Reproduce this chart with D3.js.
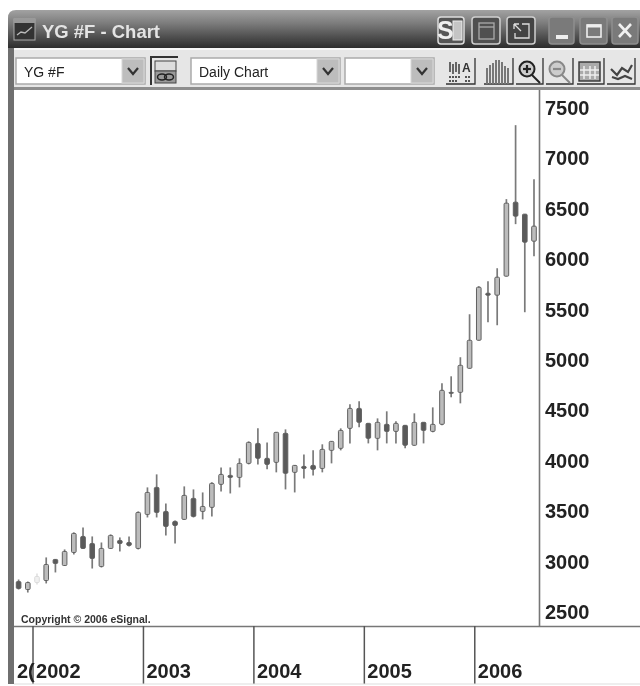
<!DOCTYPE html>
<html><head><meta charset="utf-8">
<script src="https://cdn.jsdelivr.net/npm/d3@7/dist/d3.min.js"></script>
<style>
html,body{margin:0;padding:0;background:#fff}
svg{display:block;filter:blur(0.7px)}
text{font-family:"Liberation Sans",Arial,sans-serif}
</style></head><body><div id="c"></div>
<script>
const months=["2001-11","2001-12",
"2002-01","2002-02","2002-03","2002-04","2002-05","2002-06","2002-07","2002-08","2002-09","2002-10","2002-11","2002-12",
"2003-01","2003-02","2003-03","2003-04","2003-05","2003-06","2003-07","2003-08","2003-09","2003-10","2003-11","2003-12",
"2004-01","2004-02","2004-03","2004-04","2004-05","2004-06","2004-07","2004-08","2004-09","2004-10","2004-11","2004-12",
"2005-01","2005-02","2005-03","2005-04","2005-05","2005-06","2005-07","2005-08","2005-09","2005-10","2005-11","2005-12",
"2006-01","2006-02","2006-03","2006-04","2006-05","2006-06","2006-07"];
const opens=[2797,2718,2787,2807,3016,2956,3085,3244,3174,2946,3125,3204,3184,3125,3462,3730,3492,3393,3413,3621,3492,3532,3760,3849,3829,3968,4166,4018,3978,4266,3879,3938,3948,3918,4097,4117,4315,4513,4365,4216,4355,4285,4345,4147,4375,4285,4355,4672,4672,4910,5188,5654,5635,5823,6557,6438,6170];
const highs=[2817,2797,2877,3036,3016,3115,3284,3333,3244,3184,3264,3234,3244,3492,3730,3859,3571,3403,3740,3710,3680,3780,3928,3928,4018,4186,4315,4176,4276,4305,3948,4057,4097,4157,4186,4315,4553,4583,4365,4414,4484,4385,4345,4464,4375,4523,4762,4831,5020,5446,5724,5773,5902,6587,7320,6438,6785];
const lows=[2718,2688,2768,2778,2887,2956,3065,3125,2926,2936,3125,3095,3145,3115,3432,3432,3254,3174,3413,3432,3413,3442,3690,3670,3730,3958,3958,3909,3879,3710,3680,3819,3849,3879,3968,4097,4166,4325,4166,4097,4166,4166,4117,4147,4166,4276,4345,4623,4563,4910,5188,5367,5337,5823,6339,5466,6022];
const closes=[2728,2787,2847,2966,2976,3095,3274,3125,3026,3125,3254,3174,3155,3482,3680,3482,3343,3353,3651,3442,3541,3770,3859,3829,3968,4176,4018,3958,4276,3869,3948,3918,3909,4107,4186,4295,4513,4375,4216,4375,4285,4365,4147,4375,4295,4355,4692,4662,4940,5188,5714,5635,5813,6547,6418,6160,6319];
const priceTicks=[2500,3000,3500,4000,4500,5000,5500,6000,6500,7000,7500];
const yearTicks=["2002-01","2003-01","2004-01","2005-01","2006-01"];
const cutOffLabel="2(";
const titleText="YG #F - Chart", symbolText="YG #F", periodText="Daily Chart", copyrightText="Copyright © 2006 eSignal.";

const svg=d3.select("#c").append("svg").attr("width",640).attr("height",686);
const defs=svg.append("defs");
const g=defs.append("linearGradient").attr("id","tb").attr("x1",0).attr("x2",0).attr("y1",0).attr("y2",1);
[[0,"#a2a2a2"],[.35,"#7c7c7c"],[.7,"#505050"],[1,"#2c2c2c"]].forEach(d=>g.append("stop").attr("offset",d[0]).attr("stop-color",d[1]));

// window frame
svg.append("path").attr("d","M8,18 Q8,10 16,10 L640,10 L640,48 L8,48 Z").attr("fill","url(#tb)");
svg.append("rect").attr("x",8).attr("y",48).attr("width",632).attr("height",41).attr("fill","#e6e6e6");
svg.append("rect").attr("x",8).attr("y",48).attr("width",632).attr("height",2).attr("fill","#f6f6f6");
svg.append("rect").attr("x",10).attr("y",87).attr("width",630).attr("height",3).attr("fill","#8e8e8e");
svg.append("rect").attr("x",8).attr("y",48).attr("width",6).attr("height",636).attr("fill","#6f6f6f");
svg.append("rect").attr("x",14).attr("y",90).attr("width",626).attr("height",594).attr("fill","#fff");

// title
const ic=svg.append("g");
ic.append("rect").attr("x",14).attr("y",19).attr("width",21).attr("height",21).attr("fill","#333").attr("stroke","#aaa");
ic.append("rect").attr("x",14).attr("y",19).attr("width",21).attr("height",4).attr("fill","#999");
ic.append("path").attr("d","M17,35 L21,32 L25,33 L32,27").attr("fill","none").attr("stroke","#bbb").attr("stroke-width",1.3);
svg.append("text").attr("x",42).attr("y",38).attr("font-size",19).attr("font-weight","bold").attr("fill","#e4e4e4")
 .attr("textLength",118).attr("lengthAdjust","spacingAndGlyphs").text(titleText);

function winBtn(x,w,fill,stroke){return svg.append("rect").attr("x",x).attr("y",17).attr("width",w).attr("height",27).attr("rx",3).attr("fill",fill).attr("stroke",stroke).attr("stroke-width",1.5);}
winBtn(438,26,"#555","#ddd");
svg.append("text").attr("x",437).attr("y",39).attr("font-size",25).attr("font-weight","bold").attr("fill","#eee").text("S");
svg.append("rect").attr("x",453).attr("y",21).attr("width",9).attr("height",19).attr("fill","#c4c4c4").attr("stroke","#eee");
winBtn(472,28,"#505050","#cfcfcf");
svg.append("rect").attr("x",479).attr("y",23).attr("width",15).attr("height",16).attr("fill","none").attr("stroke","#aaa").attr("stroke-width",1.3);
svg.append("line").attr("x1",479).attr("x2",494).attr("y1",27).attr("y2",27).attr("stroke","#aaa").attr("stroke-width",1.3);
winBtn(507,28,"#444","#cfcfcf");
svg.append("path").attr("d","M514,24 L521,31 M514,24 h5 M514,24 v5 M522,24 h7 v14 h-14 v-5").attr("fill","none").attr("stroke","#ddd").attr("stroke-width",1.3);
winBtn(549,25,"#7a7a7a","#8e8e8e");
svg.append("rect").attr("x",556).attr("y",35).attr("width",12).attr("height",4).attr("fill","#eee");
winBtn(580,27,"#7a7a7a","#8e8e8e");
svg.append("rect").attr("x",587).attr("y",25).attr("width",14).attr("height",12).attr("fill","none").attr("stroke","#eee").attr("stroke-width",1.6);
svg.append("line").attr("x1",587).attr("x2",601).attr("y1",26).attr("y2",26).attr("stroke","#eee").attr("stroke-width",3);
winBtn(612,26,"#7a7a7a","#8e8e8e");
svg.append("path").attr("d","M619,24 L631,37 M631,24 L619,37").attr("stroke","#f0f0f0").attr("stroke-width",2.6);

// toolbar combos
function combo(x,w,label){
 svg.append("rect").attr("x",x).attr("y",58).attr("width",w).attr("height",26).attr("fill","#fff").attr("stroke","#aaa").attr("stroke-width",1.5);
 svg.append("rect").attr("x",x+w-23).attr("y",59).attr("width",22).attr("height",24).attr("fill","#bdbdbd").attr("stroke","#d8d8d8");
 svg.append("path").attr("d",`M${x+w-17},68 l5,6 l5,-6`).attr("fill","none").attr("stroke","#333").attr("stroke-width",2.2);
 if(label) svg.append("text").attr("x",x+8).attr("y",77).attr("font-size",14).attr("fill","#222").text(label);
}
combo(16,129,symbolText); combo(191,149,periodText); combo(345,89,"");

function iconBase(x,w){svg.append("path").attr("d",`M${x},84 H${x+w} V58`).attr("fill","none").attr("stroke","#333").attr("stroke-width",1.3);}
// link icon
svg.append("path").attr("d","M151,85 V57 H178").attr("fill","none").attr("stroke","#333").attr("stroke-width",2);
svg.append("rect").attr("x",155).attr("y",61).attr("width",21).attr("height",10).attr("fill","#ddd").attr("stroke","#444");
svg.append("rect").attr("x",155).attr("y",71).attr("width",21).attr("height",12).attr("fill","#999").attr("stroke","#444");
svg.append("ellipse").attr("cx",162).attr("cy",77).attr("rx",4.5).attr("ry",3).attr("fill","none").attr("stroke","#222").attr("stroke-width",1.5);
svg.append("ellipse").attr("cx",169).attr("cy",77).attr("rx",4.5).attr("ry",3).attr("fill","none").attr("stroke","#222").attr("stroke-width",1.5);
// chart+A icon
iconBase(446,29);
[449,452,455,458].forEach((x,i)=>svg.append("rect").attr("x",x).attr("y",62+(i%2)*2).attr("width",2).attr("height",10).attr("fill","#666"));
svg.append("text").attr("x",462).attr("y",72).attr("font-size",12).attr("font-weight","bold").attr("fill","#333").text("A");
svg.append("path").attr("d","M449,77 h12 M449,81 h8 M465,77 h6 M465,81 h6").attr("stroke","#555").attr("stroke-width",2).attr("stroke-dasharray","2 1");
// bars icon
iconBase(484,29);
[486,489,492,495,498,501,504,507].forEach((x,i)=>svg.append("rect").attr("x",x).attr("y",[68,65,63,60,60,62,66,68][i]).attr("width",2).attr("height",84-[68,65,63,60,60,62,66,68][i]).attr("fill","#777"));
// zoom in / out
iconBase(516,27); iconBase(546,27);
[[527,"#222",true],[557,"#888",false]].forEach(d=>{
 svg.append("circle").attr("cx",d[0]).attr("cy",69).attr("r",7.5).attr("fill","#ccc").attr("stroke",d[1]).attr("stroke-width",2);
 svg.append("line").attr("x1",d[0]+5).attr("y1",75).attr("x2",d[0]+13).attr("y2",83).attr("stroke",d[1]).attr("stroke-width",2);
 svg.append("line").attr("x1",d[0]-4).attr("x2",d[0]+4).attr("y1",69).attr("y2",69).attr("stroke",d[1]).attr("stroke-width",2.2);
 if(d[2]) svg.append("line").attr("x1",d[0]).attr("x2",d[0]).attr("y1",65).attr("y2",73).attr("stroke",d[1]).attr("stroke-width",2.2);
});
// table icon
iconBase(577,27);
svg.append("rect").attr("x",579).attr("y",62).attr("width",21).attr("height",19).attr("fill","#aaa").attr("stroke","#333").attr("stroke-width",1.4);
svg.append("path").attr("d","M584,66 v13 M590,66 v13 M595,66 v13 M580,70 h19 M580,75 h19").attr("stroke","#eee").attr("stroke-width",1.5);
// map icon
iconBase(607,28);
svg.append("path").attr("d","M611,69 L617,75 L622,68 L628,72 L632,65 M612,77 L618,79 L625,76 L632,79").attr("fill","none").attr("stroke","#444").attr("stroke-width",2.2);

// scales
const x=d3.scalePoint().domain(months).range([18.6,534]);
const y=d3.scaleLinear().domain([2500,7500]).range([611.5,107]);

// candles
const candles=svg.append("g").selectAll("g").data(months).join("g")
 .attr("opacity",(d,i)=>i===2?0.22:1);
candles.append("line").attr("x1",d=>x(d)).attr("x2",d=>x(d))
 .attr("y1",(d,i)=>y(highs[i])).attr("y2",(d,i)=>y(lows[i]))
 .attr("stroke","#7a7a7a").attr("stroke-width",1.7);
candles.append("rect").attr("x",d=>x(d)-2.3).attr("width",4.6).attr("rx",1)
 .attr("y",(d,i)=>y(Math.max(opens[i],closes[i])))
 .attr("height",(d,i)=>Math.max(1,Math.abs(y(opens[i])-y(closes[i]))))
 .attr("fill",(d,i)=>closes[i]>=opens[i]?"#bcbcbc":"#5a5a5a")
 .attr("stroke","#606060").attr("stroke-width",1);

// axes
const yAxis=d3.axisRight(y).tickValues(priceTicks).tickSize(0).tickPadding(0).tickFormat(d3.format("d"));
const ya=svg.append("g").attr("transform","translate(545,0)").call(yAxis);
ya.select(".domain").remove();
ya.selectAll("text").attr("font-size",20).attr("font-weight","bold").attr("fill","#222")
  .style("font-family",'"Liberation Sans",Arial,sans-serif').attr("dy","0.36em").attr("x",0);
svg.append("line").attr("x1",539.5).attr("x2",539.5).attr("y1",90).attr("y2",626).attr("stroke","#777").attr("stroke-width",1.6);
svg.append("line").attr("x1",14).attr("x2",640).attr("y1",626.5).attr("y2",626.5).attr("stroke","#777").attr("stroke-width",1.6);

const xAxis=d3.axisBottom(x).tickValues(yearTicks).tickSize(58).tickPadding(0).tickFormat(d=>d.slice(0,4));
const xa=svg.append("g").attr("transform","translate(-4.5,626)").call(xAxis);
xa.select(".domain").remove();
xa.selectAll("line").attr("stroke","#555").attr("stroke-width",1.5);
xa.selectAll("text").attr("font-size",20).attr("font-weight","bold").attr("fill","#222")
  .style("font-family",'"Liberation Sans",Arial,sans-serif')
  .attr("text-anchor","start").attr("x",3).attr("y",52).attr("dy",0);
svg.append("text").attr("x",17).attr("y",678).attr("font-size",20).attr("font-weight","bold").attr("fill","#222").text(cutOffLabel);

svg.append("line").attr("x1",14).attr("x2",640).attr("y1",684).attr("y2",684).attr("stroke","#ddd");
svg.append("text").attr("x",21).attr("y",623).attr("font-size",10.5).attr("font-weight","bold").attr("fill","#333").text(copyrightText);
</script></body></html>
